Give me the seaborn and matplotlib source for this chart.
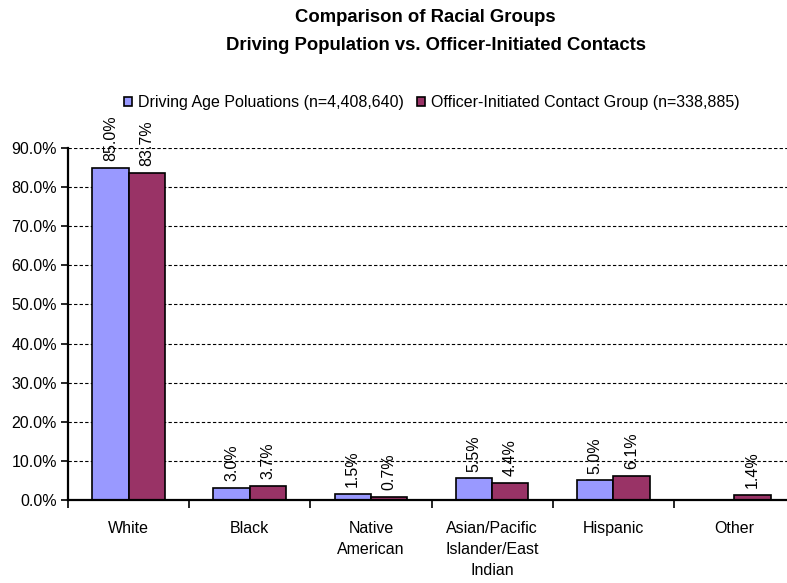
import numpy as np
import pandas as pd
import seaborn as sns
import matplotlib.pyplot as plt

categories = ["White", "Black", "Native\nAmerican", "Asian/Pacific\nIslander/East\nIndian", "Hispanic", "Other"]
series_names = ["Driving Age Poluations (n=4,408,640)", "Officer-Initiated Contact Group (n=338,885)"]
driving_pop = [85.0, 3.0, 1.5, 5.5, 5.0, np.nan]
contacts = [83.7, 3.7, 0.7, 4.4, 6.1, 1.4]
colors = ["#9999FF", "#993366"]

df = pd.DataFrame({
    "category": categories * 2,
    "series": [series_names[0]] * 6 + [series_names[1]] * 6,
    "value": driving_pop + contacts,
})

sns.set_style("white")
plt.rcParams["font.family"] = ["Liberation Sans", "DejaVu Sans"]
plt.rcParams["text.color"] = "black"
plt.rcParams["xtick.color"] = "black"
plt.rcParams["ytick.color"] = "black"

fig = plt.figure(figsize=(7.87, 5.83), dpi=100)
ax = fig.add_axes([68 / 787, 83 / 583, 727 / 787, 352 / 583])

sns.barplot(data=df, x="category", y="value", hue="series", palette=colors, saturation=1,
            width=0.6, edgecolor="black", linewidth=1.2, ax=ax, legend=True)

# value labels
for cont in ax.containers:
    for bar in cont:
        h = bar.get_height()
        if np.isnan(h):
            continue
        ax.annotate(f"{h:.1f}%", (bar.get_x() + bar.get_width() / 2, h),
                    xytext=(0, 5), textcoords="offset points", rotation=90,
                    ha="center", va="bottom", fontsize=11.5)

ax.set_ylim(0, 90)
ax.set_xlim(-0.5, 5.5)
ax.set_yticks(np.arange(0, 91, 10))
ax.set_yticklabels([f"{v:.1f}%" for v in np.arange(0, 91, 10)], fontsize=11.5)
ax.yaxis.grid(True, color="black", linestyle=(0, (3, 2)), linewidth=0.8)
ax.set_axisbelow(True)
ax.tick_params(axis="y", length=5, width=1.2, direction="out", left=True, pad=3)
ax.tick_params(axis="x", which="major", length=0, pad=15, labelsize=11.5)
for lbl in ax.get_xticklabels():
    lbl.set_linespacing(1.5)
ax.set_xticks(np.arange(-0.5, 6, 1), minor=True)
ax.tick_params(axis="x", which="minor", length=6, width=1.2, direction="out", bottom=True)
ax.set_xlabel("")
ax.set_ylabel("")
for s in ["top", "right"]:
    ax.spines[s].set_visible(False)
for s in ["left", "bottom"]:
    ax.spines[s].set_linewidth(1.6)
    ax.spines[s].set_color("black")

ax.legend(loc="center", bbox_to_anchor=(432 / 787, 1 - 103 / 583), bbox_transform=fig.transFigure,
          ncol=2, frameon=False, fontsize=11.5, handlelength=0.5, handleheight=0.5,
          handletextpad=0.4, columnspacing=0.8)

fig.text(425 / 787, 1 - 18 / 583, "Comparison of Racial Groups", ha="center", va="center",
         fontsize=13.3, fontweight="bold")
fig.text(436 / 787, 1 - 45 / 583, "Driving Population vs. Officer-Initiated Contacts", ha="center",
         va="center", fontsize=13.3, fontweight="bold")

fig.savefig("out.png", dpi=100)
